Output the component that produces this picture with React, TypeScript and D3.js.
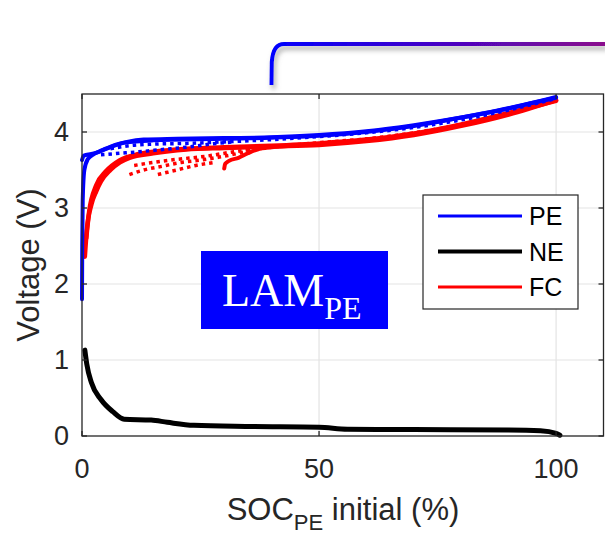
import React from "react";
import * as d3 from "d3";

type Pt = [number, number];

// Positive-electrode (PE) potential curves vs initial SOC
const peSolidA: Pt[] = [[0, 3.63], [0.4, 3.69], [2, 3.71], [3.5, 3.74], [5, 3.78], [7, 3.83], [9.5, 3.87], [13, 3.9], [20, 3.91], [30, 3.92], [40, 3.93], [50, 3.96], [60, 4.01], [70, 4.09], [80, 4.19], [90, 4.31], [100, 4.46]];
const peSolidB: Pt[] = [[0, 1.8], [0.05, 2.5], [0.15, 3.1], [0.5, 3.5], [1.2, 3.64], [2.5, 3.71], [4, 3.75], [6, 3.8], [9, 3.86], [15, 3.89], [30, 3.91], [50, 3.95], [70, 4.08], [85, 4.25], [100, 4.45]];
const peDottedA: Pt[] = [[4, 3.7], [8, 3.72], [12, 3.74], [17, 3.77], [22, 3.8], [27, 3.84], [32, 3.87]];
const peDottedB: Pt[] = [[6, 3.78], [10, 3.82], [15, 3.84], [22, 3.85], [30, 3.87], [40, 3.9], [50, 3.94], [60, 3.99], [70, 4.06], [80, 4.16], [90, 4.29], [100, 4.44]];

// Negative-electrode (NE) potential
const neSolid: Pt[] = [[0.6, 1.13], [1, 0.95], [2, 0.7], [4, 0.48], [6.5, 0.32], [8.9, 0.22], [14.6, 0.21], [18, 0.18], [23.6, 0.14], [35, 0.125], [50, 0.115], [56, 0.09], [70, 0.085], [90, 0.08], [96.7, 0.07], [100, 0.035], [100.8, 0.01]];

// Full-cell (FC) voltage curves
const fcSolidA: Pt[] = [[0.6, 2.36], [1, 2.7], [2, 3.05], [3, 3.22], [4, 3.35], [6, 3.5], [8, 3.6], [10, 3.66], [15, 3.72], [22, 3.77], [30, 3.79], [40, 3.81], [50, 3.83], [60, 3.88], [70, 3.96], [80, 4.08], [90, 4.23], [100, 4.42]];
const fcSolidB: Pt[] = [[0.9, 2.6], [1.5, 2.95], [3, 3.3], [5, 3.48], [8, 3.63], [12, 3.71], [20, 3.77], [30, 3.8], [40, 3.82], [50, 3.85], [60, 3.9], [70, 3.98], [80, 4.1], [90, 4.25], [100, 4.41]];
const fcHook: Pt[] = [[30, 3.52], [30.2, 3.58], [31, 3.62], [33, 3.66], [35, 3.72], [37, 3.77], [40, 3.8], [45, 3.82]];
const fcDottedA: Pt[] = [[10, 3.44], [13, 3.5], [17, 3.55], [21, 3.6], [25, 3.63], [29, 3.67], [33, 3.72], [36, 3.77]];
const fcDottedB: Pt[] = [[16, 3.44], [20, 3.5], [24, 3.56], [28, 3.6]];
const fcDottedC: Pt[] = [[11, 3.56], [15, 3.6], [20, 3.64], [26, 3.68], [32, 3.74], [40, 3.8], [50, 3.86], [60, 3.91], [70, 3.99], [80, 4.1], [90, 4.25], [100, 4.43]];

const xTicks = [0, 50, 100];
const yTicks = [0, 1, 2, 3, 4];
const legendItems = ["PE", "NE", "FC"];
const legendColors = ["#0000ff", "#000000", "#ff0000"];

const W = 605;
const H = 540;
const left = 82;
const right = 603.5;
const top = 94;
const bottom = 436;

const x = d3.scaleLinear().domain([0, 110]).range([left, right]);
const y = d3.scaleLinear().domain([0, 4.5]).range([bottom, top]);
const line = d3.line<Pt>().x((d) => x(d[0])).y((d) => y(d[1])).curve(d3.curveMonotoneX);

const axisColor = "#262626";
const sans = "'Liberation Sans', Arial, Helvetica, sans-serif";

export default function App() {
  const solid = (d: Pt[], c: string, w = 4) => (
    <path d={line(d) ?? ""} fill="none" stroke={c} strokeWidth={w} strokeLinejoin="round" strokeLinecap="round" />
  );
  const dotted = (d: Pt[], c: string) => (
    <path d={line(d) ?? ""} fill="none" stroke={c} strokeWidth={3.5} strokeDasharray="3.5 4" />
  );
  const tick = 5;
  return (
    <svg width={W} height={H} style={{ position: "absolute", left: 0, top: 0, background: "#fff" }}>
      <defs>
        <linearGradient id="bracketGrad" gradientUnits="userSpaceOnUse" x1={271} y1={0} x2={605} y2={0}>
          <stop offset="0" stopColor="#0000ff" />
          <stop offset="1" stopColor="#8a0a8c" />
        </linearGradient>
        <filter id="shadow" x="-10%" y="-50%" width="120%" height="300%">
          <feDropShadow dx={2} dy={4} stdDeviation={2.5} floodColor="#777" floodOpacity={0.6} />
        </filter>
      </defs>

      {/* connector bracket above the axes */}
      <path d="M271.5,85 L271.8,62 Q273,44 284,44 L606,44" fill="none" stroke="url(#bracketGrad)" strokeWidth={4} filter="url(#shadow)" />

      {/* grid */}
      {xTicks.filter((t) => t > 0).map((t) => (
        <line key={"gx" + t} x1={x(t)} x2={x(t)} y1={top} y2={bottom} stroke="#e3e3e3" strokeWidth={1.2} />
      ))}
      {yTicks.filter((t) => t > 0).map((t) => (
        <line key={"gy" + t} x1={left} x2={right} y1={y(t)} y2={y(t)} stroke="#e3e3e3" strokeWidth={1.2} />
      ))}

      {/* curves */}
      {solid(neSolid, "#000000", 5)}
      {solid(fcSolidA, "#ff0000", 4.5)}
      {solid(fcSolidB, "#ff0000", 4.5)}
      {solid(fcHook, "#ff0000", 4)}
      {dotted(fcDottedA, "#ff0000")}
      {dotted(fcDottedB, "#ff0000")}
      {dotted(fcDottedC, "#ff0000")}
      {solid(peSolidB, "#0000ff", 4)}
      {solid(peSolidA, "#0000ff", 4)}
      {dotted(peDottedA, "#0000ff")}
      {dotted(peDottedB, "#0000ff")}

      {/* axes box and ticks */}
      <rect x={left} y={top} width={right - left} height={bottom - top} fill="none" stroke={axisColor} strokeWidth={1.3} />
      {xTicks.map((t) => (
        <g key={"tx" + t}>
          <line x1={x(t)} x2={x(t)} y1={bottom} y2={bottom - tick} stroke={axisColor} strokeWidth={1.3} />
          <line x1={x(t)} x2={x(t)} y1={top} y2={top + tick} stroke={axisColor} strokeWidth={1.3} />
          <text x={x(t)} y={478} textAnchor="middle" fontFamily={sans} fontSize={27} fill={axisColor}>{t}</text>
        </g>
      ))}
      {yTicks.map((t) => (
        <g key={"ty" + t}>
          <line x1={left} x2={left + tick} y1={y(t)} y2={y(t)} stroke={axisColor} strokeWidth={1.3} />
          <line x1={right} x2={right - tick} y1={y(t)} y2={y(t)} stroke={axisColor} strokeWidth={1.3} />
          <text x={69} y={y(t)} dy="0.35em" textAnchor="end" fontFamily={sans} fontSize={27} fill={axisColor}>{t}</text>
        </g>
      ))}

      {/* axis labels */}
      <text x={343} y={520} textAnchor="middle" fontFamily={sans} fontSize={31} fill={axisColor}>
        SOC<tspan fontSize={22} dy={10}>PE</tspan><tspan dy={-10}> initial (%)</tspan>
      </text>
      <text transform={`translate(39,${(top + bottom) / 2}) rotate(-90)`} textAnchor="middle" fontFamily={sans} fontSize={31} fill={axisColor}>
        Voltage (V)
      </text>

      {/* annotation */}
      <rect x={201} y={251} width={187} height={78} fill="#0000ff" />
      <text x={222} y={306} fontFamily="'Liberation Serif', 'Times New Roman', serif" fontSize={46} fill="#ffffff">
        LAM<tspan fontSize={32} dy={13}>PE</tspan>
      </text>

      {/* legend */}
      <rect x={423} y={195} width={155} height={114} fill="#ffffff" stroke={axisColor} strokeWidth={1.2} />
      {legendItems.map((name, i) => {
        const ly = 216 + i * 35.5;
        return (
          <g key={name}>
            <line x1={438} x2={522} y1={ly} y2={ly} stroke={legendColors[i]} strokeWidth={i === 1 ? 4 : 3} />
            <text x={529} y={ly} dy="0.36em" fontFamily={sans} fontSize={25} fill="#000">{name}</text>
          </g>
        );
      })}
    </svg>
  );
}
